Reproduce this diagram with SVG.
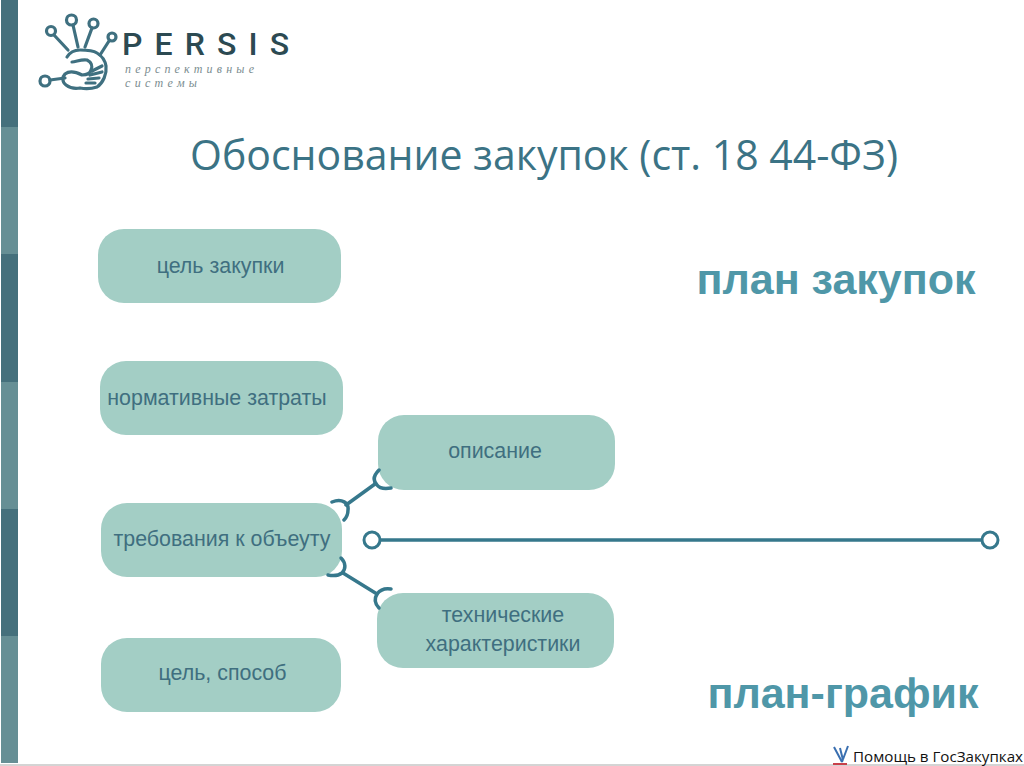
<svg xmlns="http://www.w3.org/2000/svg" width="1024" height="766" viewBox="0 0 1024 766">
<style>
.n{fill:#a3cec5}
.t{font-family:"Liberation Sans",Arial,sans-serif;font-size:21.4px;fill:#3f6f80;text-anchor:middle}
.h{font-family:"Liberation Sans",Arial,sans-serif;font-size:43px;font-weight:bold;fill:#4f97a8;text-anchor:middle}
.c{fill:none;stroke:#36788c;stroke-width:3.5;stroke-linecap:round}
.lt{fill:none;stroke:#3f7080;stroke-width:3.2;stroke-linecap:round}
</style>
<rect width="1024" height="766" fill="#fff"/>
<g id="sidebar">
<rect x="1" y="0" width="17" height="127" fill="#45707c"/>
<rect x="1" y="127" width="17" height="127" fill="#668f95"/>
<rect x="1" y="254" width="17" height="128" fill="#45707c"/>
<rect x="1" y="382" width="17" height="127" fill="#668f95"/>
<rect x="1" y="509" width="17" height="127" fill="#45707c"/>
<rect x="1" y="636" width="17" height="127" fill="#668f95"/>
<rect x="0" y="764" width="1024" height="2" fill="#d4d4d4"/>
</g>
<g id="logo">
<circle cx="51" cy="31" r="4.500" class="lt"/>
<circle cx="71.500" cy="20" r="5" class="lt"/>
<circle cx="93.500" cy="23.500" r="4.500" class="lt"/>
<circle cx="112" cy="37" r="4" class="lt"/>
<circle cx="45" cy="81" r="5" class="lt"/>
<path class="lt" d="M54 35 68 50M73 25 78 47M92 28 85 47M109 41 100 55M50 80 65 78"/>
<path class="lt" d="M67 57C70 52 75 50 80 50 88 50 94 51 97 53 102 56 105 60 106 66 107 74 103 83 97 87 91 89 85 89 80 88 75 89 70 88 66 85 62 82 62 77 65 74 69 71 76 72 82 75 86 75 90 74 91 70 93 66 91 62 87 60 81 59 76 62 72 62"/>
<path class="lt" stroke-width="2" d="M92 71 102 66M90 75 102 72M88 79 99 78M86 83 95 83"/>
<text x="122" y="55" font-family="Roboto,'Liberation Sans',sans-serif" font-size="32" font-weight="500" fill="#2c4a52" textLength="167">PERSIS</text>
<text x="125" y="73" font-family="'Liberation Serif',serif" font-size="12" font-style="italic" fill="#7b8d90" textLength="129">перспективные</text>
<text x="125" y="87" font-family="'Liberation Serif',serif" font-size="12" font-style="italic" fill="#7b8d90" textLength="72">системы</text>
</g>
<text id="title" x="544" y="170" font-family="'Open Sans','Liberation Sans',sans-serif" font-size="42" fill="#3b7385" text-anchor="middle" textLength="708" lengthAdjust="spacingAndGlyphs">Обоснование закупок (ст. 18 44-ФЗ)</text>
<g id="n1"><rect class="n" x="98" y="229" width="243" height="74" rx="26"/><text class="t" x="220.500" y="273">цель закупки</text></g>
<g id="n2"><rect class="n" x="100" y="361" width="243" height="74" rx="26"/><text class="t" x="217" y="405">нормативные затраты</text></g>
<g id="n3"><rect class="n" x="101" y="503" width="241" height="74" rx="26"/><text class="t" x="222" y="546">требования к объеуту</text></g>
<g id="n4"><rect class="n" x="101" y="638" width="240" height="74" rx="26"/><text class="t" x="222.500" y="680">цель, способ</text></g>
<g id="n5"><rect class="n" x="378" y="415" width="237" height="75" rx="26"/><text class="t" x="495" y="458">описание</text></g>
<g id="n6"><rect class="n" x="377" y="593" width="237" height="75" rx="26"/><text class="t" x="503" y="622">технические</text><text class="t" x="503" y="651">характеристики</text></g>
<g id="connectors">
<path class="c" d="M346 505 375 484M343 573 377 594M379 540H982"/>
<path class="c" d="M332 502C342 498 349 503 348 510 348 514 347 517 344 520M391 488C385 489 380 489 377 485 372 480 374 475 379 470"/>
<path class="c" d="M341 558C346 563 346 569 342 573 338 576 333 576 328 575M391 589C385 588 380 590 377 594 374 599 375 604 379 608"/>
<circle cx="372" cy="540" r="8" fill="#fff" stroke="#36788c" stroke-width="3"/>
<circle cx="990" cy="540" r="8" fill="#fff" stroke="#36788c" stroke-width="3"/>
</g>
<text id="plan1" class="h" x="836" y="294">план закупок</text>
<text id="plan2" class="h" x="843" y="708">план-график</text>
<g id="help">
<path d="M834 747 842 762M840 748 843 760M848 746 842 762" fill="none" stroke="#3a6fb0" stroke-width="2"/>
<rect x="833" y="763" width="14" height="2" fill="#c8404a"/>
<text x="853" y="762" font-family="'Open Sans','Noto Sans',sans-serif" font-size="15" fill="#111" textLength="170" lengthAdjust="spacingAndGlyphs">Помощь в ГосЗакупках</text>
</g>
</svg>
